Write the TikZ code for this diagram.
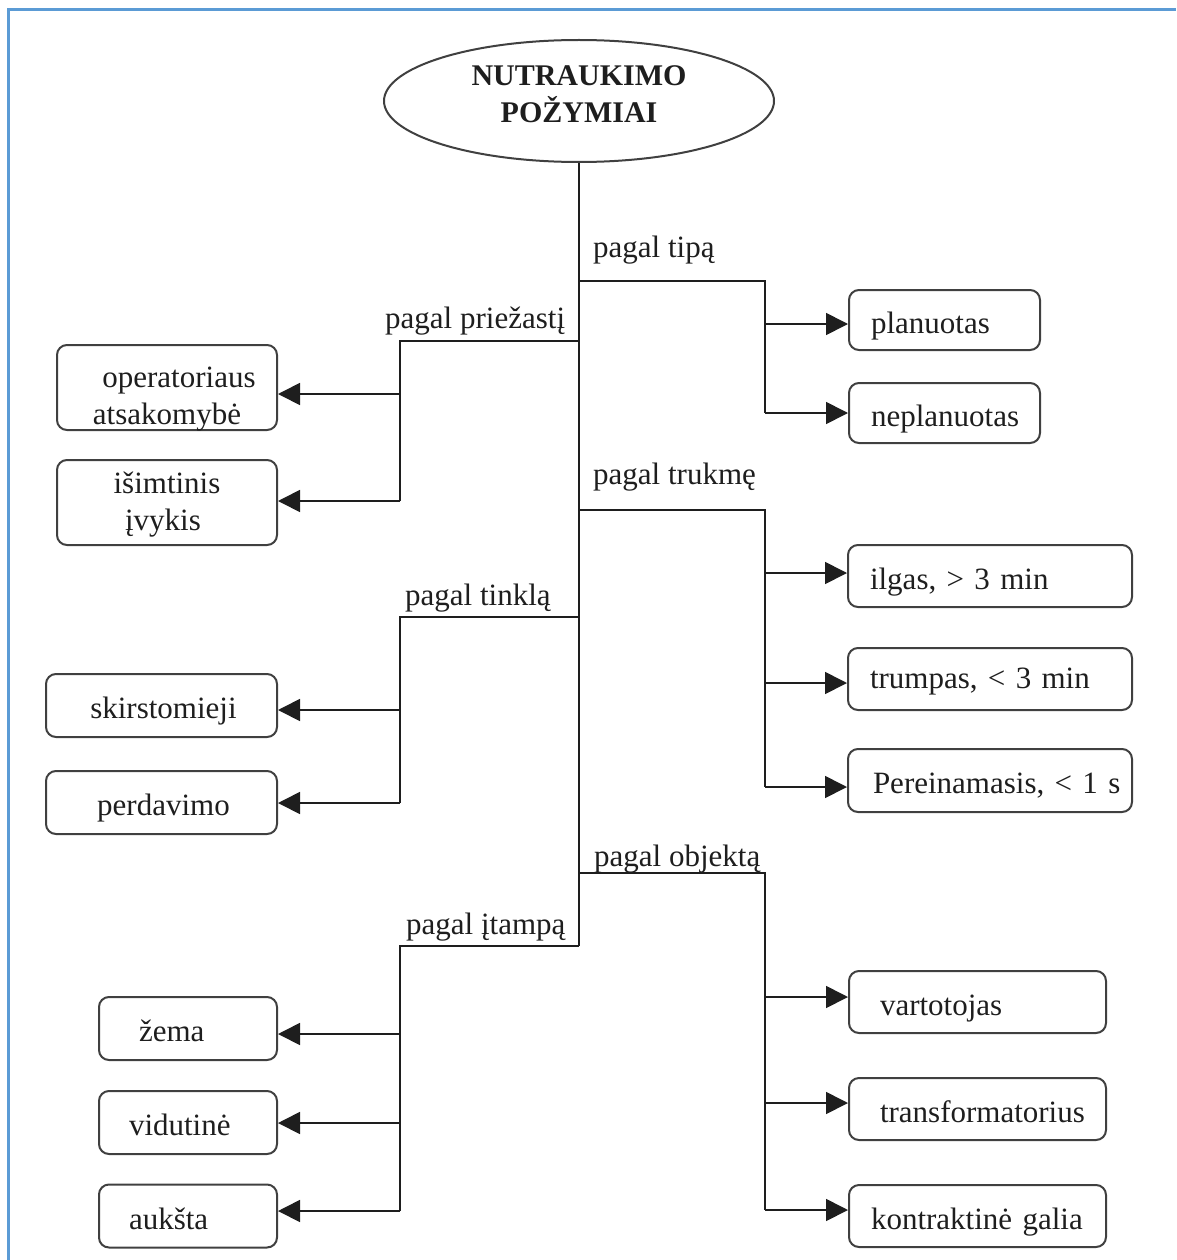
\documentclass[tikz,border=0pt]{standalone}
\usepackage{fontspec}
\setmainfont{Liberation Serif}
\usetikzlibrary{arrows.meta,shapes.geometric}
\definecolor{framecol}{RGB}{91,155,213}
\definecolor{ink}{RGB}{30,30,30}
\begin{document}
\begin{tikzpicture}[x=1pt,y=-1pt,
  conn/.style={line width=1.7pt, draw=ink},
  arr/.style={conn, -{Triangle[length=22pt,width=22pt]}},
  box/.style={draw=ink!85, line width=2pt, rounded corners=10pt,
    font=\fontsize{31}{37}\selectfont, text=ink, inner ysep=0pt,
    text height=32pt, text depth=6pt},
  lbox/.style={box, align=center, inner xsep=0pt},
  twobox/.style={box, inner xsep=0pt},
  rbox/.style={box, align=left, inner xsep=22pt},
  lab/.style={font=\fontsize{31}{35}\selectfont, text=ink, inner sep=0pt, anchor=base west}]
\useasboundingbox (0,0) rectangle (1176,1260);
% frame
\draw[framecol, line width=2.5pt] (8.5,1260) -- (8.5,9.5) -- (1176,9.5);

% root
\node[draw=ink!85, ellipse, line width=2pt, minimum width=390pt, minimum height=122pt,
  inner sep=0pt, align=center, text=ink, font=\bfseries\fontsize{30}{37}\selectfont,
  text depth=14pt] (root) at (579,101) {NUTRAUKIMO\\POŽYMIAI};

% right boxes
\node[rbox, minimum width=191pt, text width=147pt, minimum height=60pt] (plan) at (944.5,320) {\mbox{planuotas}};
\node[rbox, minimum width=191pt, text width=147pt, minimum height=60pt] (neplan) at (944.5,413) {\mbox{neplanuotas}};
\node[rbox, minimum width=284pt, text width=240pt, minimum height=62pt] (ilgas) at (990,576) {\mbox{ilgas, > 3 min}};
\node[rbox, minimum width=284pt, text width=240pt, minimum height=62pt, text height=24pt] (trump) at (990,679) {\mbox{trumpas, < 3 min}};
\node[rbox, minimum width=284pt, text width=240pt, minimum height=63pt] (perein) at (990,780.5) {\mbox{\hspace*{3pt}Pereinamasis, < 1 s}};
\node[rbox, inner xsep=28pt, minimum width=257pt, text width=201pt, minimum height=62pt] (vart) at (977.5,1002) {\mbox{\hspace*{3pt}vartotojas}};
\node[rbox, inner xsep=28pt, minimum width=257pt, text width=201pt, minimum height=62pt] (trans) at (977.5,1109) {\mbox{\hspace*{3pt}transformatorius}};
\node[rbox, inner xsep=22pt, minimum width=257pt, text width=213pt, minimum height=62pt] (kontr) at (977.5,1216) {\mbox{kontraktinė galia}};

% left boxes
\node[twobox, minimum width=220pt, minimum height=85pt] (oper) at (167,387.5)
  {\smash{\raisebox{13.5pt}{\parbox[t]{220pt}{\centering\hspace*{24pt}operatoriaus\\atsakomybė}}}};
\node[twobox, minimum width=220pt, minimum height=85pt] (isimt) at (167,502.5)
  {\smash{\raisebox{22.5pt}{\parbox[t]{220pt}{\centering išimtinis\\\hspace*{-8pt}įvykis}}}};
\node[lbox, minimum width=231pt, text width=231pt, minimum height=63pt] (skirst) at (161.5,705.5) {\hspace*{4pt}skirstomieji};
\node[lbox, minimum width=231pt, text width=231pt, minimum height=63pt] (perd) at (161.5,802.5) {\hspace*{4pt}perdavimo};
\node[rbox, inner xsep=30pt, minimum width=178pt, text width=118pt, minimum height=63pt] (zema) at (188,1028.5) {\mbox{\hspace*{10pt}žema}};
\node[rbox, inner xsep=30pt, minimum width=178pt, text width=118pt, minimum height=63pt] (vidut) at (188,1122.5) {\mbox{vidutinė}};
\node[rbox, inner xsep=30pt, minimum width=178pt, text width=118pt, minimum height=63pt] (auksta) at (188,1216) {\mbox{aukšta}};

% trunk
\coordinate (tEnd) at (579,946);
\draw[conn] (root.south) -- (tEnd);

% pagal tipa
\coordinate (a0) at (579,281); \coordinate (a1) at (765,281);
\coordinate (a2) at (765,413); \coordinate (a3) at (765,324);
\draw[conn] (a0) -- (a1) -- (a2);
\draw[arr] (a3) -- (a3 -| plan.west);
\draw[arr] (a2) -- (a2 -| neplan.west);
\node[lab] (lTipa) at (593,257) {pagal tipą};

% pagal priezasti
\coordinate (b0) at (579,341); \coordinate (b1) at (400,341);
\coordinate (b2) at (400,501); \coordinate (b3) at (400,394);
\draw[conn] (b0) -- (b1) -- (b2);
\draw[arr] (b3) -- (b3 -| oper.east);
\draw[arr] (b2) -- (b2 -| isimt.east);
\node[lab] (lPriez) at (385,328) {pagal priežastį};

% pagal trukme
\coordinate (c0) at (579,510); \coordinate (c1) at (765,510);
\coordinate (c2) at (765,787); \coordinate (c3) at (765,573); \coordinate (c4) at (765,683);
\draw[conn] (c0) -- (c1) -- (c2);
\draw[arr] (c3) -- (c3 -| ilgas.west);
\draw[arr] (c4) -- (c4 -| trump.west);
\draw[arr] (c2) -- (c2 -| perein.west);
\node[lab] (lTruk) at (593,484) {pagal trukmę};

% pagal tinkla
\coordinate (d0) at (579,617); \coordinate (d1) at (400,617);
\coordinate (d2) at (400,803); \coordinate (d3) at (400,710);
\draw[conn] (d0) -- (d1) -- (d2);
\draw[arr] (d3) -- (d3 -| skirst.east);
\draw[arr] (d2) -- (d2 -| perd.east);
\node[lab] (lTinkl) at (405,605) {pagal tinklą};

% pagal objekta
\coordinate (e0) at (579,873); \coordinate (e1) at (765,873);
\coordinate (e2) at (765,1210); \coordinate (e3) at (765,997); \coordinate (e4) at (765,1103);
\draw[conn] (e0) -- (e1) -- (e2);
\draw[arr] (e3) -- (e3 -| vart.west);
\draw[arr] (e4) -- (e4 -| trans.west);
\draw[arr] (e2) -- (e2 -| kontr.west);
\node[lab] (lObj) at (594,866) {pagal objektą};

% pagal itampa
\coordinate (f1) at (400,946);
\coordinate (f2) at (400,1211); \coordinate (f3) at (400,1034); \coordinate (f4) at (400,1123);
\draw[conn] (tEnd) -- (f1) -- (f2);
\draw[arr] (f3) -- (f3 -| zema.east);
\draw[arr] (f4) -- (f4 -| vidut.east);
\draw[arr] (f2) -- (f2 -| auksta.east);
\node[lab] (lItamp) at (406,934) {pagal įtampą};
\end{tikzpicture}
\end{document}
